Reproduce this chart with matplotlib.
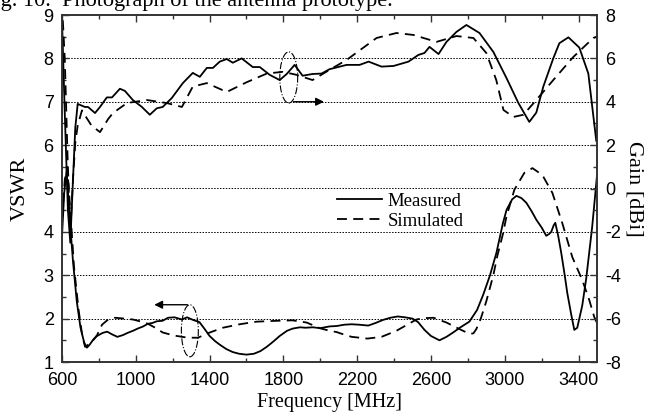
import numpy as np
import matplotlib
matplotlib.use('Agg')
import matplotlib.pyplot as plt
from matplotlib.patches import Ellipse
from matplotlib.ticker import MultipleLocator

plt.rcParams['axes.unicode_minus'] = False

# VSWR, measured
f_vm = [600, 612, 625, 640, 660, 680, 700, 720, 735, 750, 770, 790, 820, 845, 870,
        900, 930, 955, 985, 1010, 1040, 1065, 1090, 1115, 1145, 1175, 1210, 1250,
        1278, 1310, 1345, 1375, 1400, 1430, 1455, 1490, 1525, 1560, 1600, 1640,
        1675, 1710, 1745, 1780, 1820, 1850, 1890, 1920, 1960, 2000, 2050, 2090,
        2130, 2170, 2210, 2260, 2300, 2340, 2380, 2420, 2460, 2500, 2530, 2565,
        2600, 2646, 2684, 2720, 2760, 2808, 2850, 2884, 2920, 2955, 2990, 3010,
        3040, 3063, 3090, 3117, 3145, 3171, 3200, 3225, 3240, 3252, 3265, 3274,
        3290, 3306, 3325, 3339, 3360, 3377, 3393, 3420, 3442, 3474, 3500]
vswr_m = [3.9, 4.9, 5.4, 4.4, 3.3, 2.4, 1.8, 1.45, 1.33, 1.40, 1.52, 1.60, 1.67, 1.70,
          1.64, 1.58, 1.62, 1.67, 1.72, 1.77, 1.82, 1.88, 1.90, 1.94, 1.95, 2.02,
          2.03, 1.98, 2.03, 1.97, 1.92, 1.75, 1.60, 1.48, 1.40, 1.30, 1.23, 1.19,
          1.17, 1.19, 1.25, 1.35, 1.47, 1.60, 1.72, 1.77, 1.80, 1.79, 1.80, 1.78,
          1.82, 1.83, 1.86, 1.87, 1.86, 1.84, 1.90, 1.97, 2.02, 2.05, 2.03, 2.00,
          1.92, 1.74, 1.60, 1.50, 1.58, 1.68, 1.80, 1.93, 2.2, 2.56, 3.0, 3.52,
          4.2, 4.51, 4.75, 4.83, 4.78, 4.67, 4.48, 4.28, 4.10, 3.91, 3.95, 4.00,
          4.15, 4.21, 3.9, 3.52, 3.0, 2.59, 2.1, 1.74, 1.79, 2.3, 2.94, 4.12, 5.3]

# VSWR, simulated
f_vs = [600, 615, 628, 645, 665, 690, 710, 725, 760, 790, 817, 850, 887, 940, 984,
        1030, 1066, 1110, 1146, 1190, 1222, 1282, 1336, 1370, 1401, 1472, 1563,
        1655, 1764, 1850, 1926, 1997, 2050, 2089, 2130, 2170, 2256, 2332, 2413,
        2467, 2521, 2560, 2614, 2684, 2754, 2808, 2830, 2846, 2870, 2900, 2938,
        2960, 2990, 3009, 3052, 3106, 3150, 3204, 3258, 3312, 3366, 3420, 3458,
        3485, 3500]
vswr_s = [4.3, 5.2, 5.5, 4.5, 3.2, 2.2, 1.6, 1.35, 1.45, 1.62, 1.86, 1.98, 2.02,
          2.00, 1.98, 1.93, 1.88, 1.78, 1.68, 1.63, 1.60, 1.56, 1.56, 1.62, 1.68,
          1.79, 1.87, 1.93, 1.95, 1.96, 1.91, 1.78, 1.72, 1.69, 1.63, 1.58, 1.54,
          1.58, 1.72, 1.85, 1.98, 2.01, 2.02, 1.91, 1.76, 1.65, 1.66, 1.76, 2.0,
          2.4, 3.0, 3.45, 3.95, 4.35, 4.97, 5.36, 5.47, 5.31, 4.9, 4.2, 3.42,
          2.89, 2.43, 2.04, 1.9]

# Gain, measured
f_gm = [600, 615, 632, 645, 660, 672, 685, 724, 741, 779, 806, 843, 871, 914, 941,
        984, 1033, 1076, 1114, 1146, 1195, 1255, 1309, 1347, 1385, 1418, 1455,
        1493, 1526, 1574, 1634, 1672, 1726, 1780, 1818, 1861, 1904, 1958, 2007,
        2050, 2143, 2213, 2262, 2332, 2397, 2478, 2532, 2565, 2592, 2641, 2684,
        2738, 2792, 2863, 2938, 3009, 3074, 3133, 3171, 3209, 3263, 3296, 3345,
        3404, 3453, 3496]
gain_m = [7.8, 3.5, -1.0, -2.5, 0.5, 2.8, 3.9, 3.76, 3.76, 3.48, 3.76, 4.2, 4.2,
          4.6, 4.5, 4.08, 3.76, 3.4, 3.7, 3.76, 4.17, 4.86, 5.33, 5.15, 5.56, 5.56,
          5.85, 5.97, 5.8, 6.0, 5.6, 5.6, 5.24, 5.0, 5.28, 5.7, 5.2, 5.28, 5.3,
          5.5, 5.7, 5.7, 5.85, 5.62, 5.65, 5.85, 6.16, 6.25, 6.53, 6.2, 6.76,
          7.22, 7.54, 7.17, 6.3, 5.1, 3.94, 3.07, 3.5, 4.7, 6.0, 6.7, 6.97, 6.5,
          5.3, 2.2]

# Gain, simulated
f_gs = [600, 615, 630, 645, 660, 672, 685, 708, 730, 760, 806, 850, 876, 952, 1060,
        1168, 1250, 1309, 1385, 1493, 1601, 1710, 1797, 1872, 1958, 2050, 2143,
        2305, 2413, 2505, 2630, 2738, 2830, 2900, 2954, 2993, 3047, 3101, 3171,
        3263, 3371, 3480, 3500]
gain_s = [8.5, 6.0, 1.5, -2.0, 0.5, 2.1, 2.9, 3.6, 3.3, 2.9, 2.6, 3.2, 3.48, 3.94,
          4.08, 3.94, 3.76, 4.7, 4.86, 4.45, 4.9, 5.3, 5.38, 5.24, 5.0, 5.47, 5.93,
          6.94, 7.17, 7.08, 6.76, 7.03, 6.94, 6.25, 5.0, 3.62, 3.3, 3.4, 4.08, 5.0,
          6.06, 6.94, 7.0]

x_ticks = [600, 1000, 1400, 1800, 2200, 2600, 3000, 3400]

serif = 'Liberation Serif'
sans = 'Liberation Sans'

fig = plt.figure(figsize=(6.57, 4.15), dpi=100)
ax = fig.add_axes([62/657, 1 - 362/415, 535/657, 347/415])
ax2 = ax.twinx()

dash = (5.5, 3.5)
l1, = ax.plot(f_vm, vswr_m, color='k', lw=1.3, label='Measured')
l2, = ax.plot(f_vs, vswr_s, color='k', lw=1.3, dashes=dash, label='Simulated')
ax2.plot(f_gm, gain_m, color='k', lw=1.3)
ax2.plot(f_gs, gain_s, color='k', lw=1.3, dashes=dash)

ax.set_xlim(600, 3500)
ax.set_ylim(1, 9)
ax2.set_ylim(-8, 8)

for v in range(2, 9):
    ax.axhline(v, color='k', lw=0.7, ls=(0, (1.5, 1.5)), zorder=0)

ax.set_xticks(x_ticks)
ax.xaxis.set_minor_locator(MultipleLocator(200))
ax.yaxis.set_major_locator(MultipleLocator(1))
ax.yaxis.set_minor_locator(MultipleLocator(0.5))
ax2.yaxis.set_major_locator(MultipleLocator(2))
ax2.yaxis.set_minor_locator(MultipleLocator(1))

ax.tick_params(which='both', direction='in', top=True, right=False,
               labelsize=13, width=1, color='#333333')
ax.tick_params(which='major', length=5)
ax.tick_params(which='minor', length=3)
ax.tick_params(axis='x', pad=7)
ax.tick_params(axis='y', pad=6)
ax2.tick_params(which='both', direction='in', labelsize=13, width=1, color='#333333')
ax2.tick_params(which='major', length=5, pad=6)
ax2.tick_params(which='minor', length=3)
for a in (ax, ax2):
    for lab in a.get_xticklabels() + a.get_yticklabels():
        lab.set_family(sans)
    for s in a.spines.values():
        s.set_linewidth(1.2)
        s.set_color('#333333')

ax.set_xlabel('Frequency [MHz]', family=serif, fontsize=14.5, labelpad=3)
ax.set_ylabel('VSWR', family=serif, fontsize=16, labelpad=10)
ax2.set_ylabel('Gain [dBi]', family=serif, fontsize=16, rotation=270, labelpad=16)

# ellipses and arrows pointing to the axes
ax.add_patch(Ellipse((1829, 7.56), 97, 1.18, fill=False, ls='-.', lw=0.8, color='k'))
ax.annotate('', xy=(2035, 7.0), xytext=(1840, 7.0),
            arrowprops=dict(arrowstyle='-|>', lw=1, color='k', mutation_scale=12))
ax.add_patch(Ellipse((1293, 1.72), 92, 1.2, fill=False, ls='-.', lw=0.8, color='k'))
ax.annotate('', xy=(1085, 2.32), xytext=(1295, 2.32),
            arrowprops=dict(arrowstyle='-|>', lw=1, color='k', mutation_scale=12))

ax.legend(handles=[l1, l2], loc='center left', bbox_to_anchor=(0.514, 0.435),
          frameon=False, prop={'family': serif, 'size': 13.5}, handlelength=2.4,
          handletextpad=0.3, labelspacing=0.15, borderpad=0, borderaxespad=0)

fig.text(-18/657, 1 - 6/415, 'Fig. 10.  Photograph of the antenna prototype.',
         family=serif, fontsize=16, va='baseline', ha='left')

fig.savefig('out.png', dpi=100)
